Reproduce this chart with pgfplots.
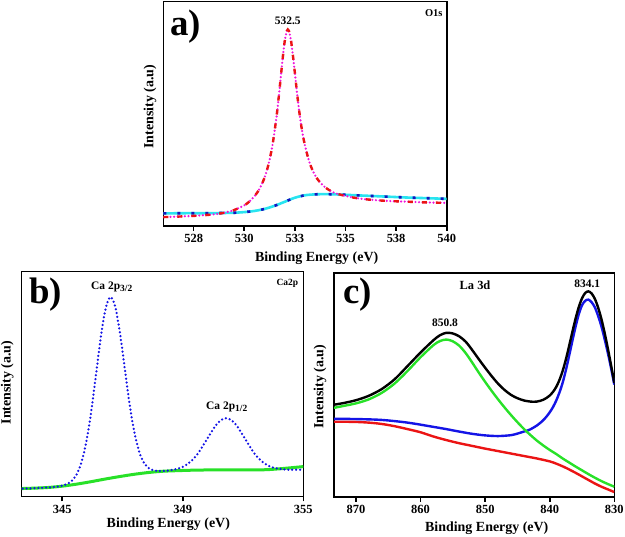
\documentclass[border=0pt]{standalone}
\usepackage{fontspec}
\setmainfont{Liberation Serif}
\usepackage{pgfplots}
\pgfplotsset{compat=1.18}
\definecolor{cgreen}{RGB}{40,225,40}
\definecolor{cblue}{RGB}{20,20,230}
\definecolor{cred}{RGB}{235,20,20}
\definecolor{ccyan}{RGB}{40,228,240}
\definecolor{cdblue}{RGB}{20,20,190}
\definecolor{cmag}{RGB}{240,20,220}
\begin{document}
\begin{tikzpicture}[x=1bp,y=1bp]
\useasboundingbox (0,0) rectangle (625,537);
\pgfplotsset{
  panel/.style={
    scale only axis,
    axis line style={line width=1.6bp},
    xtick pos=bottom, ytick=\empty,
    tick align=outside,
    major tick length=5bp,
    every tick/.style={line width=1.6bp, black},
    tick label style={font=\fontsize{12.5}{14}\selectfont\bfseries},
    label style={font=\fontsize{14}{16}\selectfont\bfseries},
    ymin=0, ymax=100,
  }
}
% ---------------- a) O1s ----------------
\begin{axis}[panel, at={(163.3bp,311bp)}, anchor=south west, width=283.4bp, height=224.3bp,
  xmin=526, xmax=540,
  xtick={527.5,530,532.5,535,537.5,540}, xticklabels={528,530,533,535,538,540},
  xlabel={Binding Energy (eV)}, ylabel={Intensity (a.u)},
  xlabel style={at={(axis description cs:0.541,-0.159)}, anchor=base},
  ylabel style={at={(axis description cs:-0.047,0.532)}, anchor=center}]
\addplot[ccyan, line width=2.6bp, smooth] coordinates {
(526.0,5.6) (527.0,5.7) (528.0,5.7) (529.0,5.8) (529.5,5.9) (530.0,6.2) (530.5,6.7)
(531.0,7.6) (531.5,9.0) (532.0,10.8) (532.5,12.6) (533.0,13.7) (533.5,14.1) (534.0,14.2)
(534.5,14.1) (535.0,13.9) (536.0,13.5) (537.0,13.1) (538.0,12.7) (539.0,12.4) (540.0,12.1)};
\addplot[cdblue, line width=2.6bp, dash pattern=on 3bp off 11bp, smooth] coordinates {
(526.0,5.6) (527.0,5.7) (528.0,5.7) (529.0,5.8) (529.5,5.9) (530.0,6.2) (530.5,6.7)
(531.0,7.6) (531.5,9.0) (532.0,10.8) (532.5,12.6) (533.0,13.7) (533.5,14.1) (534.0,14.2)
(534.5,14.1) (535.0,13.9) (536.0,13.5) (537.0,13.1) (538.0,12.7) (539.0,12.4) (540.0,12.1)};
\addplot[cmag, line width=2.4bp, line cap=round, dash pattern=on 0bp off 3.6bp, smooth, tension=0.5] coordinates {
(526.0,3.97) (526.5,4.1) (527.0,4.3) (527.5,4.5) (528.0,4.8) (528.5,5.2) (529.0,5.9)
(529.5,7.1) (530.0,9.2) (530.25,10.9) (530.5,13.2) (530.75,16.5) (531.0,21.5) (531.2,27.6)
(531.4,36.4) (531.6,49.2) (531.7,57.3) (531.8,66.1) (531.9,75.0) (532.0,82.5) (532.1,86.9)
(532.15,87.6) (532.2,87.1) (532.3,83.2) (532.4,76.2) (532.5,68.2) (532.6,59.8) (532.7,52.2)
(532.8,45.6) (532.9,40.2) (533.0,35.8) (533.2,28.9) (533.4,24.3) (533.6,21.1) (533.8,18.9)
(534.0,17.2) (534.25,15.7) (534.5,14.6) (535.0,13.4) (535.5,12.5) (536.0,11.9) (537.0,11.2)
(538.0,10.85) (539.0,10.5) (540.0,10.3)};
\addplot[cred, line width=2.4bp, dash pattern=on 5bp off 9bp, smooth, tension=0.5] coordinates {
(526.0,3.97) (526.5,4.1) (527.0,4.3) (527.5,4.5) (528.0,4.8) (528.5,5.2) (529.0,5.9)
(529.5,7.1) (530.0,9.2) (530.25,10.9) (530.5,13.2) (530.75,16.5) (531.0,21.5) (531.2,27.6)
(531.4,36.4) (531.6,49.2) (531.7,57.3) (531.8,66.1) (531.9,75.0) (532.0,82.5) (532.1,86.9)
(532.15,87.6) (532.2,87.1) (532.3,83.2) (532.4,76.2) (532.5,68.2) (532.6,59.8) (532.7,52.2)
(532.8,45.6) (532.9,40.2) (533.0,35.8) (533.2,28.9) (533.4,24.3) (533.6,21.1) (533.8,18.9)
(534.0,17.2) (534.25,15.7) (534.5,14.6) (535.0,13.4) (535.5,12.5) (536.0,11.9) (537.0,11.2)
(538.0,10.85) (539.0,10.5) (540.0,10.3)};
\end{axis}
% ---------------- b) Ca2p ----------------
\begin{axis}[panel, at={(21.5bp,40.5bp)}, anchor=south west, width=281.8bp, height=224.8bp,
  xmin=343.31, xmax=355,
  xtick={345,350,355}, xticklabels={345,349,355},
  xlabel={Binding Energy (eV)}, ylabel={Intensity (a.u)},
  xlabel style={at={(axis description cs:0.521,-0.1357)}, anchor=base},
  ylabel style={at={(axis description cs:-0.05,0.507)}, anchor=center}]
\addplot[cgreen, line width=3bp, smooth] coordinates {
(343.2,3.5) (343.8,3.7) (344.4,4.0) (345.0,4.6) (345.6,5.5) (346.2,6.6) (346.8,7.8)
(347.4,8.9) (348.0,9.9) (348.6,10.7) (349.2,11.25) (349.8,11.5) (350.4,11.7) (351.0,11.8)
(352.0,11.8) (353.0,11.8) (353.6,12.0) (354.2,12.5) (355.0,13.3)};
\addplot[cblue, line width=2.5bp, line cap=round, dash pattern=on 0bp off 3.9bp, smooth] coordinates {
(343.2,3.5) (343.4,3.5) (343.6,3.6) (343.8,3.7) (344.0,3.8) (344.2,3.9) (344.4,4.0)
(344.6,4.2) (344.8,4.4) (345.0,4.8) (345.2,5.6) (345.4,7.0) (345.6,9.9) (345.8,15.3)
(346.0,24.4) (346.2,37.7) (346.4,54.2) (346.6,70.8) (346.8,83.6) (347.0,88.7) (347.2,84.3)
(347.4,72.3) (347.6,56.4) (347.8,40.7) (348.0,28.1) (348.2,19.7) (348.4,14.8) (348.6,12.5)
(348.8,11.6) (349.0,11.35) (349.2,11.35) (349.4,11.55) (349.6,11.9) (349.8,12.4) (350.0,13.2)
(350.2,14.45) (350.4,16.3) (350.6,18.75) (350.8,21.9) (351.0,25.4) (351.2,28.9) (351.4,32.0)
(351.6,34.1) (351.8,34.8) (352.0,34.1) (352.2,32.0) (352.4,28.9) (352.6,25.4) (352.8,21.9)
(353.0,18.75) (353.2,16.4) (353.4,14.65) (353.6,13.45) (353.8,12.7) (354.0,12.3) (354.2,12.05)
(354.4,11.9) (354.6,11.9) (354.8,11.9) (355.0,11.9)};
\end{axis}
% ---------------- c) La 3d ----------------
\begin{axis}[panel, at={(334bp,40bp)}, anchor=south west, width=280.3bp, height=224bp,
  xmin=830, xmax=873.4, x dir=reverse,
  xtick={870,860,850,840,830}, xticklabels={870,860,850,840,830},
  xlabel={Binding Energy (eV)}, ylabel={Intensity (a.u)},
  xlabel style={at={(axis description cs:0.545,-0.152)}, anchor=base},
  ylabel style={at={(axis description cs:-0.05,0.492)}, anchor=center}]
\addplot[cred, line width=2.4bp, smooth] coordinates {
(873.4,33.6) (872,33.6) (870,33.5) (868,33.2) (866,32.6) (864,31.6) (862,30.3) (860,28.9)
(858,27.0) (856,25.4) (854,24.0) (852,22.8) (850,21.6) (848,20.5) (846,19.4) (844,18.3)
(842,17.2) (840,15.9) (839,14.9) (838,13.7) (837,12.3) (836,10.8) (835,9.2) (834,7.6)
(833,6.0) (832,4.6) (831,3.4) (830,2.2)};
\addplot[cblue, line width=2.4bp, smooth] coordinates {
(873.4,34.9) (870,34.8) (866,34.4) (862,33.2) (858,31.3) (856,30.3) (854,29.2) (852,28.2)
(850,27.5) (848,27.2) (846,27.6) (845,28.3) (844,29.2) (843.5,29.6) (843,30.2) (842.5,31.0)
(842,31.9) (841.5,33.0) (841,34.3) (840.5,35.9) (840,37.8) (839.5,40.1) (839,43.0)
(838.5,46.6) (838,51.0) (837.5,56.6) (837,63.0) (836.5,69.6) (836,76.0) (835.5,81.6)
(835,85.6) (834.5,87.6) (834,88.1) (833.5,86.9) (833,84.6) (832.5,80.8) (832,76.2)
(831.5,70.5) (831,64.3) (830.5,57.5) (830,50.2)};
\addplot[cgreen, line width=2.4bp, smooth] coordinates {
(873.4,39.8) (872,40.6) (870,41.8) (868,43.6) (866,46.5) (864,50.7) (862,56.3) (860,62.4)
(858,67.8) (857,69.6) (856,70.3) (855,69.5) (854,67.5) (853,64.2) (852,60.0) (851,55.6)
(850,51.4) (849,47.4) (848,43.6) (847,40.0) (846,36.6) (845,33.4) (844,30.4) (843,27.7)
(842,25.2) (841,23.0) (840,21.0) (839,19.2) (838,17.2) (837,15.4) (836,13.6) (835,11.9)
(834,10.2) (833,8.6) (832,7.1) (831,5.8) (830,4.6)};
\addplot[black, line width=2.4bp, smooth] coordinates {
(873.4,41.2) (872,41.9) (870,43.2) (868,45.2) (866,48.2) (864,52.6) (862,58.5) (860,64.5)
(858,70.0) (857,72.2) (856,73.3) (855,73.0) (854,71.7) (853,69.3) (852,65.6) (851,61.6)
(850,57.7) (849,54.0) (848,50.6) (847,47.8) (846,45.6) (845,44.1) (844,43.1) (843.5,42.8)
(843,42.6) (842.5,42.5) (842,42.6) (841.5,42.9) (841,43.4) (840.5,44.2) (840,45.3)
(839.5,46.9) (839,49.1) (838.5,52.2) (838,56.3) (837.5,61.4) (837,67.4) (836.5,73.6)
(836,79.6) (835.5,84.8) (835,88.7) (834.5,91.1) (834,91.8) (833.5,90.8) (833,88.4)
(832.5,84.5) (832,79.5) (831.5,73.3) (831,66.3) (830.5,58.8) (830,51.0)};
\end{axis}
% ---------------- annotations ----------------
\begin{scope}[every node/.style={inner sep=0pt}]
\node[anchor=base west, font=\fontsize{37}{40}\selectfont\bfseries] at (170,501.5) {a)};
\node[font=\fontsize{11.5}{13}\selectfont\bfseries] at (287.7,516.5) {532.5};
\node[anchor=east, font=\fontsize{10.5}{12}\selectfont\bfseries] at (442.7,523.7) {O1s};
\node[anchor=base west, font=\fontsize{37}{40}\selectfont\bfseries] at (29,233) {b)};
\node[font=\fontsize{11.5}{13}\selectfont\bfseries] at (111.7,250.3) {Ca 2p\raisebox{-0.4ex}{\fontsize{9.5}{10}\selectfont 3/2}};
\node[font=\fontsize{11.5}{13}\selectfont\bfseries] at (226.7,130.3) {Ca 2p\raisebox{-0.4ex}{\fontsize{9.5}{10}\selectfont 1/2}};
\node[anchor=east, font=\fontsize{9.5}{11}\selectfont\bfseries] at (298.3,253.7) {Ca2p};
\node[anchor=base west, font=\fontsize{37}{40}\selectfont\bfseries] at (343,233) {c)};
\node[font=\fontsize{12.5}{14}\selectfont\bfseries] at (475,252) {La 3d};
\node[font=\fontsize{11.5}{13}\selectfont\bfseries] at (445,214.3) {850.8};
\node[font=\fontsize{11.5}{13}\selectfont\bfseries] at (587.3,253.7) {834.1};
\end{scope}
\end{tikzpicture}
\end{document}
